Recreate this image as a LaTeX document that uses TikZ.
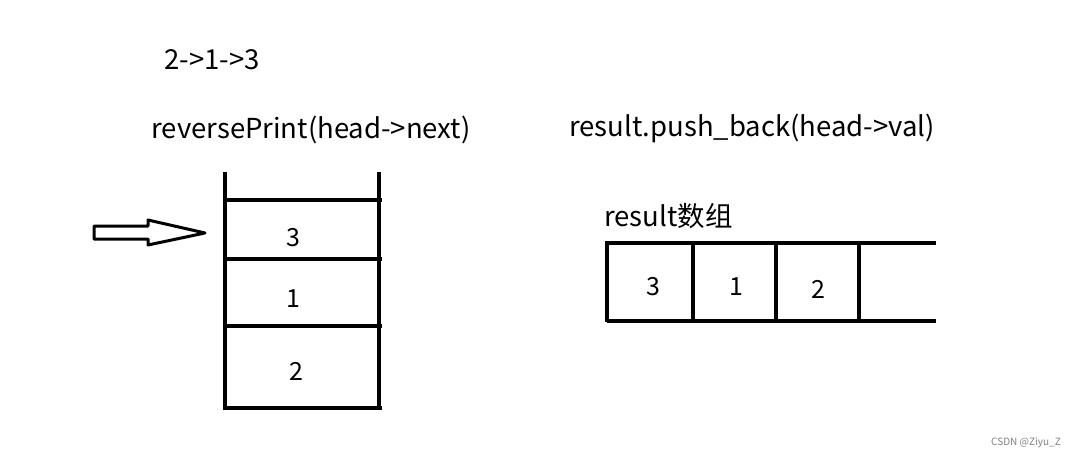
\documentclass[tikz,border=0pt]{standalone}
\usepackage{fontspec}
\setmainfont{Noto Sans CJK SC}
\begin{document}
\begin{tikzpicture}[x=1pt,y=-1pt,
  ln/.style={line width=3.3pt},
  lbl/.style={font=\fontsize{27.5}{30}\selectfont,inner sep=0pt},
  num/.style={font=\fontsize{25}{28}\selectfont,inner sep=0pt}]
\useasboundingbox (0,0) rectangle (1077,460);
\node[lbl] (seq) at (212,60) {2->1->3};
\node[lbl] (rp) at (311,130) {reversePrint(head->next)};
\node[lbl] (pb) at (752,128) {result.push\_back(head->val)};
\node[lbl,anchor=west] (arr) at (604,216) {result数组};
\node[font=\fontsize{10}{11}\selectfont,text=gray] (wm) at (1026,443) {CSDN @Ziyu\_Z};
% stack
\draw[ln] (225,172) -- (225,408);
\draw[ln] (379,172) -- (379,408);
\foreach \y in {200,259,326,408} \draw[ln] (223,\y) -- (382,\y);
\node[num] (s3) at (293,238) {3};
\node[num] (s1) at (293,299) {1};
\node[num] (s2) at (296,371) {2};
% arrow
\draw[line width=3pt,line join=round] (94,226) -- (148,226) -- (148,220) -- (205,233) -- (148,245) -- (148,239) -- (94,239) -- cycle;
% array
\draw[ln] (607,243) -- (936,243);
\draw[ln] (607,321) -- (936,321);
\foreach \x in {607,693,776,859} \draw[ln] (\x,241) -- (\x,322);
\node[num] (a3) at (653,287) {3};
\node[num] (a1) at (736,287) {1};
\node[num] (a2) at (818,289) {2};
\end{tikzpicture}
\end{document}
